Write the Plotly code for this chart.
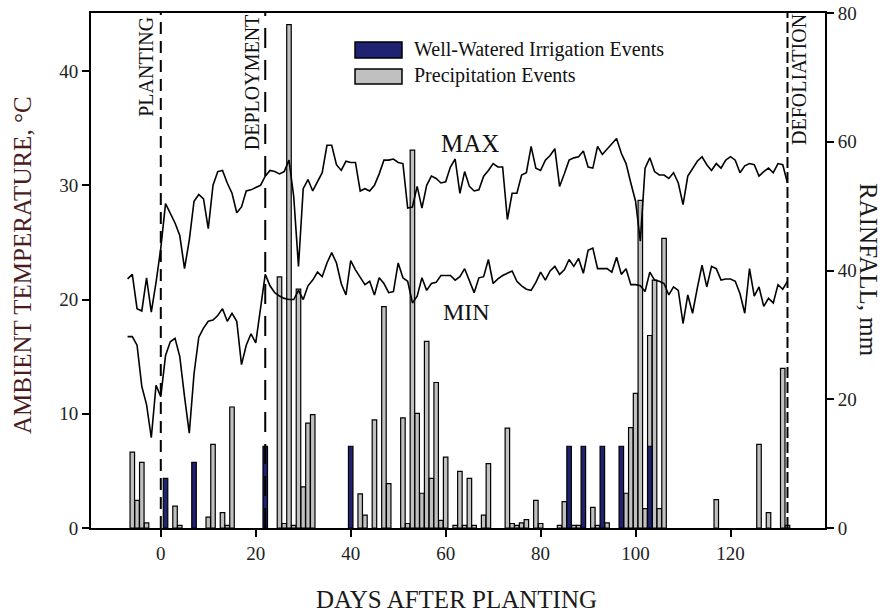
import plotly.graph_objects as go

# Daily air temperature, days after planting (-7 .. 132)
days = list(range(-7, 133))
t_max = [21.8, 22.2, 19.2, 19.0, 21.9, 18.9, 21.5, 24.5, 28.4, 27.6,
         26.7, 25.6, 22.7, 25.2, 28.6, 29.2, 28.8, 26.2, 30.0, 31.2,
         31.3, 30.2, 29.3, 27.6, 28.1, 29.5, 29.6, 29.8, 30.0, 30.8,
         31.3, 31.2, 31.0, 31.2, 32.2, 29.0, 22.9, 29.7, 30.5, 29.5,
         30.3, 31.1, 33.5, 33.5, 31.8, 31.3, 32.1, 32.0, 32.0, 29.5,
         29.7, 29.5, 30.0, 31.0, 32.2, 32.2, 32.3, 32.0, 31.9, 28.0,
         28.1, 29.9, 28.0, 30.0, 30.8, 30.6, 30.2, 30.3, 31.6, 32.3,
         29.3, 31.2, 29.9, 29.5, 29.6, 30.8, 31.3, 31.9, 31.6, 31.6,
         27.0, 29.3, 29.3, 30.9, 31.1, 33.4, 31.5, 31.3, 32.2, 32.6,
         33.2, 29.9, 31.0, 32.2, 32.4, 32.5, 33.0, 31.6, 31.5, 33.4,
         32.7, 33.2, 33.6, 34.1, 32.8, 31.9, 30.2, 28.6, 25.1, 31.5,
         32.4, 31.2, 30.9, 30.9, 30.6, 31.1, 30.2, 28.3, 30.8, 31.5,
         32.1, 32.5, 31.8, 31.3, 31.9, 31.5, 32.2, 32.5, 32.2, 31.1,
         31.7, 31.9, 31.8, 30.8, 31.2, 31.5, 31.1, 31.9, 31.8, 30.2]
t_min = [16.75, 16.75, 16.0, 12.4, 10.8, 7.9, 12.5, 11.5, 15.1, 16.3,
         16.6, 15.0, 11.5, 8.3, 13.5, 16.7, 17.5, 18.1, 18.2, 18.6,
         19.2, 18.1, 18.8, 18.1, 14.3, 16.0, 17.0, 16.2, 19.2, 22.2,
         21.2, 20.6, 20.3, 20.1, 20.0, 20.0, 20.8, 20.0, 21.2, 21.7,
         22.4, 22.0, 23.2, 24.1, 23.2, 21.4, 20.4, 23.4, 22.6, 22.0,
         21.3, 21.6, 20.4, 21.9, 21.4, 20.6, 20.7, 23.2, 21.9, 21.6,
         19.7, 20.3, 21.9, 20.8, 21.4, 21.5, 22.1, 22.1, 22.1, 21.7,
         22.0, 22.7, 21.6, 20.6, 21.9, 22.0, 23.5, 21.4, 21.8, 22.1,
         22.3, 22.5, 21.6, 21.2, 20.9, 20.8, 21.5, 22.4, 21.7, 22.5,
         22.9, 22.2, 22.6, 23.5, 22.9, 23.6, 22.3, 24.3, 24.5, 22.7,
         22.7, 22.7, 22.4, 23.7, 22.2, 22.7, 21.3, 21.3, 21.2, 20.7,
         22.4, 21.7, 21.6, 21.4, 20.4, 21.1, 20.8, 17.9, 20.4, 18.8,
         21.0, 23.0, 21.1, 22.9, 22.7, 21.7, 21.8, 21.8, 21.6, 20.5,
         18.8, 22.7, 20.3, 21.1, 19.4, 20.1, 19.7, 21.3, 20.9, 21.6]

# Precipitation events (mm)
rain_days = [-6, -5, -4, -3, 3, 4, 10, 11, 13, 14, 15, 25, 26, 27, 28, 29, 30, 31, 32,
             42, 43, 45, 47, 48, 51, 52, 53, 54, 55, 56, 57, 58, 59, 60, 62, 63, 64,
             65, 66, 68, 69, 73, 74, 75, 76, 77, 79, 80, 84, 85, 87, 88, 91, 92, 94,
             98, 99, 100, 101, 102, 103, 104, 105, 106, 117, 126, 128, 131, 132]
rain_mm = [11.8, 4.3, 10.2, 0.8, 3.4, 0.4, 1.7, 13.0, 2.4, 0.4, 18.8, 39.0, 0.7, 78.2,
           0.4, 37.1, 6.4, 16.3, 17.6, 5.3, 2.0, 16.8, 34.4, 6.9, 17.1, 0.7, 58.7,
           17.8, 5.4, 29.0, 7.7, 22.6, 1.2, 11.0, 0.4, 8.8, 0.4, 7.7, 0.4, 2.0, 10.0,
           15.5, 0.7, 0.4, 0.8, 1.3, 4.3, 0.7, 0.4, 4.1, 0.4, 0.4, 3.2, 0.4, 0.8,
           5.4, 15.6, 20.9, 50.9, 3.0, 29.9, 38.5, 3.0, 45.0, 4.4, 13.0, 2.4, 24.8, 0.4]

# Well-watered irrigation events (mm)
irr_days = [1, 7, 22, 40, 86, 89, 93, 97, 103]
irr_mm = [7.7, 10.2, 12.7, 12.7, 12.7, 12.7, 12.7, 12.7, 12.7]

# Crop stage markers
events = ["PLANTING", "DEPLOYMENT", "DEFOLIATION"]
event_days = [0, 22, 132]

FONT = "Liberation Serif"
NAVY = "#1f2270"
GREY = "#c0c0c0"

fig = go.Figure()
fig.add_trace(go.Bar(x=rain_days, y=rain_mm, width=0.95, yaxis="y",
                     marker=dict(color=GREY, line=dict(color="black", width=1.2)),
                     name="Precipitation Events"))
fig.add_trace(go.Bar(x=irr_days, y=irr_mm, width=0.95, yaxis="y",
                     marker=dict(color=NAVY, line=dict(color="black", width=1.2)),
                     name="Well-Watered Irrigation Events"))
fig.add_trace(go.Scatter(x=days, y=t_max, mode="lines", yaxis="y2",
                         line=dict(color="black", width=1.6), name="MAX"))
fig.add_trace(go.Scatter(x=days, y=t_min, mode="lines", yaxis="y2",
                         line=dict(color="black", width=1.6), name="MIN"))

# Dashed stage lines and their rotated labels
dashes = ["12px,7px", "20px,12px", "11px,4px"]
label_shift = [-15, -13, 12]
label_top = [0.996, 1.002, 1.002]
for name, d, dash, sh, ly in zip(events, event_days, dashes, label_shift, label_top):
    fig.add_shape(type="line", xref="x", yref="paper", x0=d, x1=d, y0=0, y1=1,
                  line=dict(color="black", width=2, dash=dash))
    fig.add_annotation(x=d, xref="x", y=ly, yref="paper", text=name, textangle=-90,
                       showarrow=False, xshift=sh, yanchor="top",
                       font=dict(family=FONT, size=20, color="#111"))

# Series labels
fig.add_annotation(x=65.1, y=33.7, xref="x", yref="y2", text="MAX", showarrow=False,
                   font=dict(family=FONT, size=25, color="#111"))
fig.add_annotation(x=64.3, y=18.9, xref="x", yref="y2", text="MIN", showarrow=False,
                   font=dict(family=FONT, size=24, color="#111"))

# Legend drawn as boxes and labels
leg = [("Well-Watered Irrigation Events", NAVY, 0.9126, 0.9437, 0.9282),
       ("Precipitation Events", GREY, 0.8621, 0.8913, 0.8777)]
for text, col, y0, y1, yc in leg:
    fig.add_shape(type="rect", xref="paper", yref="paper", x0=0.3597, x1=0.4237,
                  y0=y0, y1=y1, fillcolor=col, line=dict(color="black", width=1.5))
    fig.add_annotation(x=0.4373, y=yc, xref="paper", yref="paper", text=text,
                       showarrow=False, xanchor="left", yanchor="middle",
                       font=dict(family=FONT, size=20, color="#111"))

# Axis titles
fig.add_annotation(x=-0.0926, y=0.5107, xref="paper", yref="paper",
                   xanchor="center", yanchor="middle",
                   text="AMBIENT TEMPERATURE, °C", textangle=-90, showarrow=False,
                   font=dict(family=FONT, size=25, color="#4a1c1c"))
fig.add_annotation(x=1.0585, y=0.501, xref="paper", yref="paper",
                   xanchor="center", yanchor="middle",
                   text="RAINFALL, mm", textangle=90, showarrow=False,
                   font=dict(family=FONT, size=25, color="#1a1a1a"))
fig.add_annotation(x=0.4986, y=-0.1398, xref="paper", yref="paper",
                   xanchor="center", yanchor="middle",
                   text="DAYS AFTER PLANTING", showarrow=False,
                   font=dict(family=FONT, size=25, color="#1a1a1a"))

tickfont = dict(family=FONT, size=19, color="#222")
fig.update_layout(
    width=883, height=615,
    margin=dict(l=91, r=58, t=13, b=87, autoexpand=False),
    paper_bgcolor="white", plot_bgcolor="white",
    showlegend=False, barmode="overlay",
    xaxis=dict(range=[-14.7, 139.9], tickvals=[0, 20, 40, 60, 80, 100, 120],
               ticks="outside", ticklen=7, tickwidth=1.5, tickcolor="black",
               showline=True, linewidth=2, linecolor="black", mirror=True,
               showgrid=False, zeroline=False, tickfont=tickfont, automargin=False),
    yaxis=dict(side="right", range=[0, 80], tickvals=[0, 20, 40, 60, 80],
               ticks="outside", ticklen=7, tickwidth=1.5, tickcolor="black",
               showline=True, linewidth=2, linecolor="black",
               showgrid=False, zeroline=False, tickfont=tickfont, automargin=False),
    yaxis2=dict(side="left", overlaying="y", range=[0, 45.08],
                tickvals=[0, 10, 20, 30, 40],
                ticks="outside", ticklen=7, tickwidth=1.5, tickcolor="black",
                showline=True, linewidth=2, linecolor="black",
                showgrid=False, zeroline=False, tickfont=tickfont, automargin=False),
)

fig.write_html("out.html")
